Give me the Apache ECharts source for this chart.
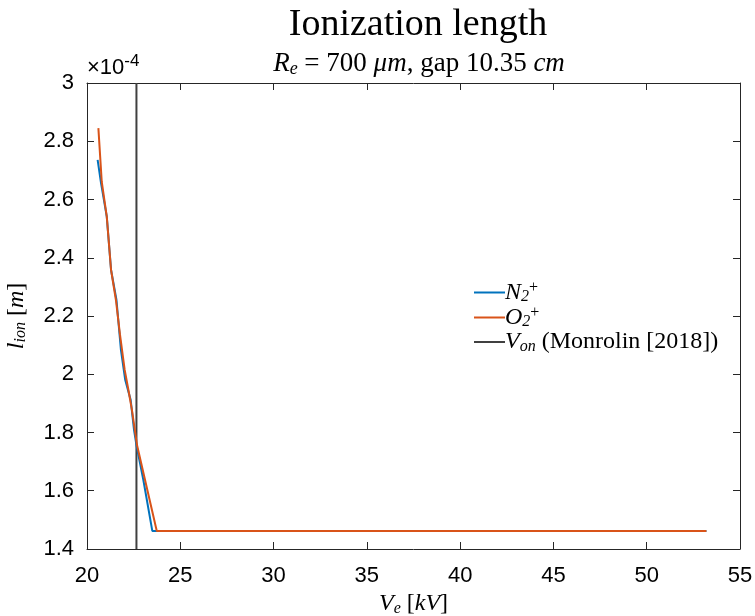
<!DOCTYPE html>
<html>
<head>
<meta charset="utf-8">
<script src="https://cdn.jsdelivr.net/npm/echarts@6/dist/echarts.min.js"></script>
<style>html,body{margin:0;padding:0;background:#fff}#c{width:755px;height:616px}</style>
</head>
<body>
<div id="c"></div>
<script>
// ---- data ----
const n2X = [20.57, 20.75, 21.06, 21.29, 21.58, 21.82, 22.05, 22.34, 22.52, 22.65, 23.02, 23.50, 53.2];
const n2Y = [2.736, 2.657, 2.541, 2.358, 2.255, 2.083, 1.980, 1.912, 1.809, 1.757, 1.637, 1.462, 1.462];
const o2X = [20.61, 20.79, 21.06, 21.29, 21.55, 21.77, 22.02, 22.22, 22.41, 22.68, 23.74, 53.2];
const o2Y = [2.845, 2.661, 2.541, 2.358, 2.255, 2.135, 2.015, 1.946, 1.877, 1.757, 1.462, 1.462];
const vOn = 22.65;
const xTicks = [20, 25, 30, 35, 40, 45, 50, 55];
const yTicks = [1.4, 1.6, 1.8, 2, 2.2, 2.4, 2.6, 2.8, 3];
const seriesNames = ['N2+', 'O2+', 'Von'];

const zip = (xs, ys) => xs.map((x, i) => [x, ys[i]]);
const yMin = yTicks[0], yMax = yTicks[yTicks.length - 1];
const xMin = xTicks[0], xMax = xTicks[xTicks.length - 1];

const chart = echarts.init(document.getElementById('c'), null, {renderer: 'canvas'});
const axCol = '#262626';
const sans = 'Liberation Sans';
const serif = 'Liberation Serif';

function mathRich(size, subSize, subPad) {
  return {
    i: {fontFamily: serif, fontStyle: 'italic', fontWeight: 'normal', fontSize: size, color: '#000'},
    n: {fontFamily: serif, fontWeight: 'normal', fontSize: size, color: '#000'},
    sub: {fontFamily: serif, fontStyle: 'italic', fontWeight: 'normal', fontSize: subSize, color: '#000',
          verticalAlign: 'bottom', padding: [subPad, 0, 0, 0]}
  };
}

const baseX = {
  type: 'value', min: xMin, max: xMax, interval: 5,
  axisLine: {show: true, onZero: false, lineStyle: {color: axCol, width: 1}},
  axisTick: {show: true, inside: true, length: 7, lineStyle: {color: axCol}},
  splitLine: {show: false}
};
const baseY = {
  type: 'value', min: yMin, max: yMax, interval: 0.2,
  axisLine: {show: true, onZero: false, lineStyle: {color: axCol, width: 1}},
  axisTick: {show: true, inside: true, length: 7, lineStyle: {color: axCol}},
  splitLine: {show: false}
};

const option = {
  animation: false,
  backgroundColor: '#fff',
  title: [
    {text: 'Ionization length', left: 413, top: 1, textAlign: 'center',
     textStyle: {fontFamily: serif, fontWeight: 'normal', fontSize: 38, color: '#000'}},
    {text: '{i|R}{sub|e}{n| = 700 }{i|μm}{n|, gap 10.35 }{i|cm}', left: 414, top: 45, textAlign: 'center',
     textStyle: {fontWeight: 'normal', rich: mathRich(27, 18, 10)}}
  ],
  grid: {left: 87, right: 15, top: 83, bottom: 67, outerBoundsMode: 'none', containLabel: false},
  legend: {
    data: seriesNames,
    left: 469, top: 275, orient: 'vertical',
    icon: 'rect', itemWidth: 31, itemHeight: 2, itemGap: 0,
    formatter: function (name) {
      if (name === 'N2+') return '{i|N}{sub|2}{sup|+}';
      if (name === 'O2+') return '{i|O}{sub|2}{sup|+}';
      return '{i|V}{sub|on}{n| (Monrolin [2018])}';
    },
    textStyle: {
      padding: [0, 0, 0, -5],
      rich: {
        i: {fontFamily: serif, fontStyle: 'italic', fontSize: 24, color: '#000', lineHeight: 25},
        n: {fontFamily: serif, fontSize: 24, color: '#000', lineHeight: 25},
        sub: {fontFamily: serif, fontStyle: 'italic', fontSize: 16, color: '#000', verticalAlign: 'bottom', lineHeight: 25},
        sup: {fontFamily: serif, fontSize: 16, color: '#000', verticalAlign: 'top', lineHeight: 25}
      }
    }
  },
  xAxis: [
    Object.assign({}, baseX, {
      position: 'bottom',
      axisLabel: {fontFamily: sans, fontSize: 22, color: '#000', margin: 16},
      name: '{i|V}{sub|e}{n| [}{i|kV}{n|]}', nameLocation: 'middle', nameGap: 36,
      nameTextStyle: {rich: mathRich(24, 16, 9)}
    }),
    Object.assign({}, baseX, {position: 'top', axisLabel: {show: false}})
  ],
  yAxis: [
    Object.assign({}, baseY, {
      position: 'left',
      axisLabel: {fontFamily: sans, fontSize: 22, color: '#000', margin: 13},
      name: '{i|l}{sub|ion}{n| [}{i|m}{n|]}', nameLocation: 'middle', nameGap: 58, nameRotate: 90,
      nameTextStyle: {rich: mathRich(24, 16, 9)}
    }),
    Object.assign({}, baseY, {position: 'right', axisLabel: {show: false}})
  ],
  graphic: [{
    type: 'text', left: 87, top: 53,
    style: {
      text: '{a|×10}{b|-4}',
      rich: {
        a: {fontFamily: sans, fontSize: 22, fill: '#000', verticalAlign: 'bottom', lineHeight: 26},
        b: {fontFamily: sans, fontSize: 17, fill: '#000', verticalAlign: 'top', lineHeight: 26}
      }
    }
  }],
  series: [
    {name: seriesNames[0], type: 'line', data: zip(n2X, n2Y), showSymbol: false, symbol: 'none',
     lineStyle: {color: '#0072BD', width: 2}, itemStyle: {color: '#0072BD'}, z: 3},
    {name: seriesNames[1], type: 'line', data: zip(o2X, o2Y), showSymbol: false, symbol: 'none',
     lineStyle: {color: '#D95319', width: 2}, itemStyle: {color: '#D95319'}, z: 4},
    {name: seriesNames[2], type: 'line', data: [[vOn, yMin], [vOn, yMax]], showSymbol: false, symbol: 'none',
     lineStyle: {color: '#404040', width: 2}, itemStyle: {color: '#404040'}, z: 2}
  ]
};
chart.setOption(option);
</script>
</body>
</html>
